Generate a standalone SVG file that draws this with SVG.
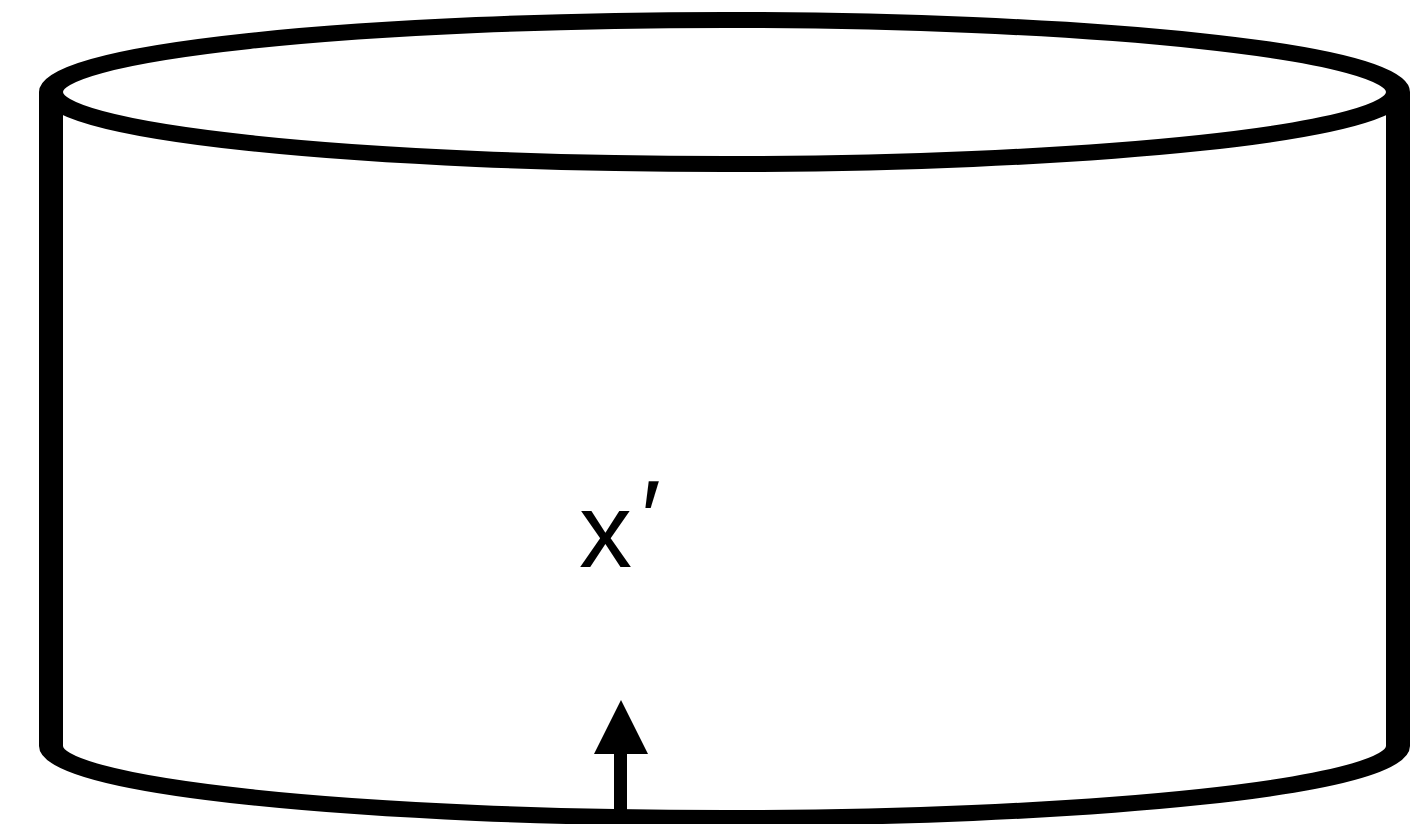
<svg xmlns="http://www.w3.org/2000/svg" width="1424" height="824" viewBox="0 0 1424 824">
<style>
.body{fill:none;stroke:#000;stroke-width:16;stroke-linejoin:round}
.lbl{font-family:"Liberation Sans",Arial,sans-serif;fill:#000}
</style>
<rect width="1424" height="824" fill="#fff"/>
<g id="cylinder">
<g transform="scale(1.5,1)">
<path class="body" d="M34,92 A449,72 0 0 1 932,92 L932,746 A449,72 0 0 1 34,746 Z"/>
<path class="body" d="M34,92 A449,72 0 0 0 932,92"/>
</g>
<text class="lbl" x="579" y="567" font-size="106">x<tspan x="641" y="554" font-size="106">′</tspan></text>
</g>
<g id="connectors">
<rect x="614" y="752" width="13" height="66" fill="#000"/>
<polygon points="621,700 648,754 594,754" fill="#000"/>
</g>
</svg>
